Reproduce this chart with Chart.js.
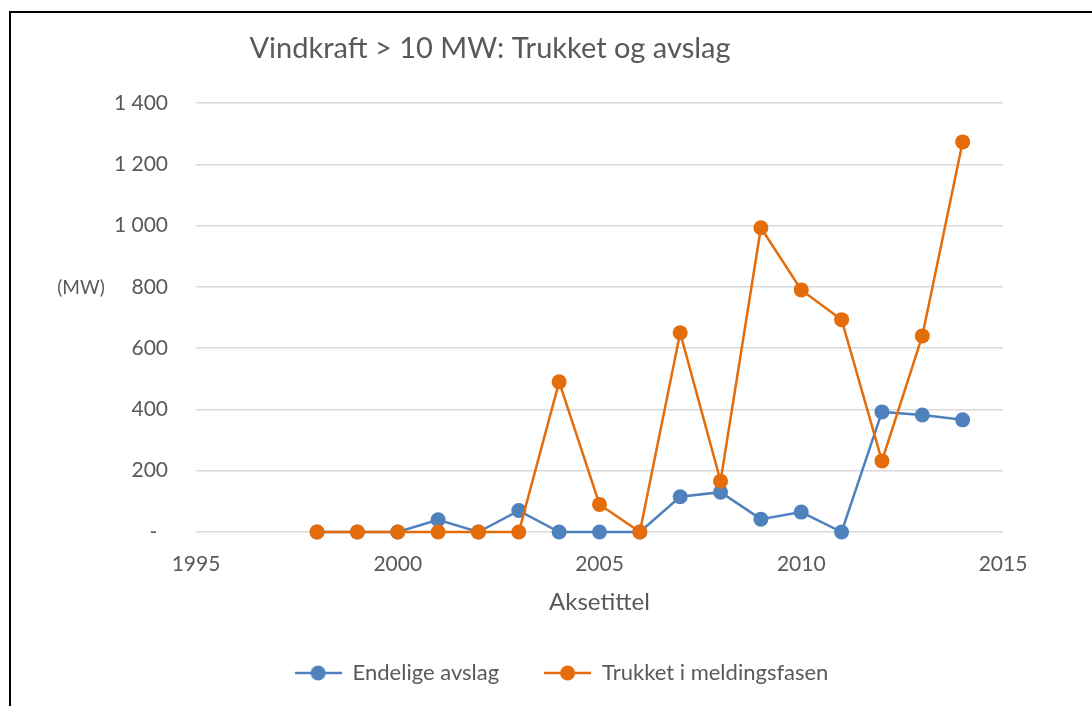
<!DOCTYPE html>
<html>
<head>
<meta charset="utf-8">
<script src="https://cdn.jsdelivr.net/npm/chart.js@4.4.0/dist/chart.umd.min.js"></script>
<style>
  html, body { margin: 0; padding: 0; background: #fff; }
  #wrap { width: 1092px; height: 706px; position: relative; }
</style>
</head>
<body>
<div id="wrap"><canvas id="myChart" width="1092" height="706"></canvas></div>
<script>
// data
var years = [1998, 1999, 2000, 2001, 2002, 2003, 2004, 2005, 2006, 2007, 2008, 2009, 2010, 2011, 2012, 2013, 2014];
var endeligeAvslag = [0, 0, 0, 40, 0, 70, 0, 0, 0, 115, 130, 42, 65, 0, 392, 382, 366];
var trukketMelding = [0, 0, 0, 0, 0, 0, 490, 90, 0, 650, 166, 993, 790, 693, 232, 640, 1273];
var seriesNames = ['Endelige avslag', 'Trukket i meldingsfasen'];
var chartTitle = 'Vindkraft > 10 MW: Trukket og avslag';
var yTitle = '(MW)';
var xTitle = 'Aksetittel';

var blue = '#4F81BD';
var orange = '#E46C0A';
var textColor = '#595959';
var fontFamily = 'Lato, "Open Sans", sans-serif';

function toPoints(vals) {
    return years.map(function (y, i) { return { x: y, y: vals[i] }; });
}

// little line + dot picture for the legend
function legendMarker(color) {
    var c = document.createElement('canvas');
    c.width = 47;
    c.height = 16;
    var g = c.getContext('2d');
    g.strokeStyle = color;
    g.lineWidth = 2.5;
    g.beginPath();
    g.moveTo(0, 8);
    g.lineTo(47, 8);
    g.stroke();
    g.fillStyle = color;
    g.beginPath();
    g.arc(23.5, 8, 7.5, 0, Math.PI * 2);
    g.fill();
    return c;
}

function formatThousands(v) {
    if (v === 0) return '-  ';
    return String(v).replace(/\B(?=(\d{3})+(?!\d))/g, ' ');
}

// frame, title and the (MW) label
var decorations = {
    id: 'decorations',
    afterLayout: function (chart) {
        // legend sits a bit right of the page centre in the original
        chart.legend.left += 120;
    },
    beforeDraw: function (chart) {
        var ctx = chart.ctx;
        ctx.save();
        ctx.fillStyle = '#fff';
        ctx.fillRect(0, 0, chart.width, chart.height);
        ctx.strokeStyle = '#000';
        ctx.lineWidth = 2;
        ctx.strokeRect(10, 12, 1200, 900);
        ctx.restore();
    },
    afterDraw: function (chart) {
        var ctx = chart.ctx;
        ctx.save();
        ctx.fillStyle = textColor;
        ctx.textAlign = 'center';
        ctx.textBaseline = 'alphabetic';
        ctx.font = '29px ' + fontFamily;
        ctx.fillText(chartTitle, 490, 58);
        ctx.font = '19px ' + fontFamily;
        ctx.textBaseline = 'middle';
        ctx.fillText(yTitle, 81, 288);
        ctx.restore();
    }
};

var ctx = document.getElementById('myChart').getContext('2d');
var myChart = new Chart(ctx, {
    type: 'line',
    data: {
        datasets: [
            {
                label: seriesNames[0],
                data: toPoints(endeligeAvslag),
                borderColor: blue,
                backgroundColor: blue,
                borderWidth: 2.5,
                pointRadius: 7.5,
                pointBorderWidth: 0,
                pointStyle: 'circle',
                tension: 0,
                clip: false,
                order: 1
            },
            {
                label: seriesNames[1],
                data: toPoints(trukketMelding),
                borderColor: orange,
                backgroundColor: orange,
                borderWidth: 2.5,
                pointRadius: 7.5,
                pointBorderWidth: 0,
                pointStyle: 'circle',
                tension: 0,
                clip: false,
                order: 0
            }
        ]
    },
    options: {
        responsive: false,
        animation: false,
        layout: { padding: { left: 0, right: 89, top: 103, bottom: 12 } },
        plugins: {
            title: { display: false },
            tooltip: { enabled: false },
            legend: {
                position: 'bottom',
                labels: {
                    usePointStyle: true,
                    pointStyleWidth: 47,
                    padding: 45,
                    color: textColor,
                    font: { family: fontFamily, size: 22 },
                    sort: function (a, b) { return a.datasetIndex - b.datasetIndex; },
                    generateLabels: function (chart) {
                        return chart.data.datasets.map(function (ds, i) {
                            return {
                                text: ds.label,
                                datasetIndex: i,
                                pointStyle: legendMarker(ds.borderColor),
                                fillStyle: ds.borderColor,
                                strokeStyle: ds.borderColor,
                                lineWidth: 0,
                                fontColor: textColor,
                                hidden: false
                            };
                        });
                    }
                }
            }
        },
        scales: {
            x: {
                type: 'linear',
                min: 1995,
                max: 2015,
                border: { display: false },
                grid: { display: false, drawTicks: false },
                ticks: {
                    stepSize: 5,
                    padding: 20,
                    color: textColor,
                    font: { family: fontFamily, size: 21 },
                    callback: function (v) { return String(v); }
                },
                title: {
                    display: true,
                    text: xTitle,
                    color: textColor,
                    font: { family: fontFamily, size: 24 },
                    padding: { top: 0, bottom: 0 }
                },
                afterFit: function (scale) { scale.height = 85; }
            },
            y: {
                min: 0,
                max: 1400,
                border: { display: false },
                grid: { color: '#D9D9D9', lineWidth: 1.5, drawTicks: false },
                ticks: {
                    stepSize: 200,
                    padding: 28,
                    color: textColor,
                    font: { family: fontFamily, size: 21 },
                    callback: function (v) { return formatThousands(v); }
                },
                afterFit: function (scale) { scale.width = 196; }
            }
        }
    },
    plugins: [decorations]
});
</script>
</body>
</html>
